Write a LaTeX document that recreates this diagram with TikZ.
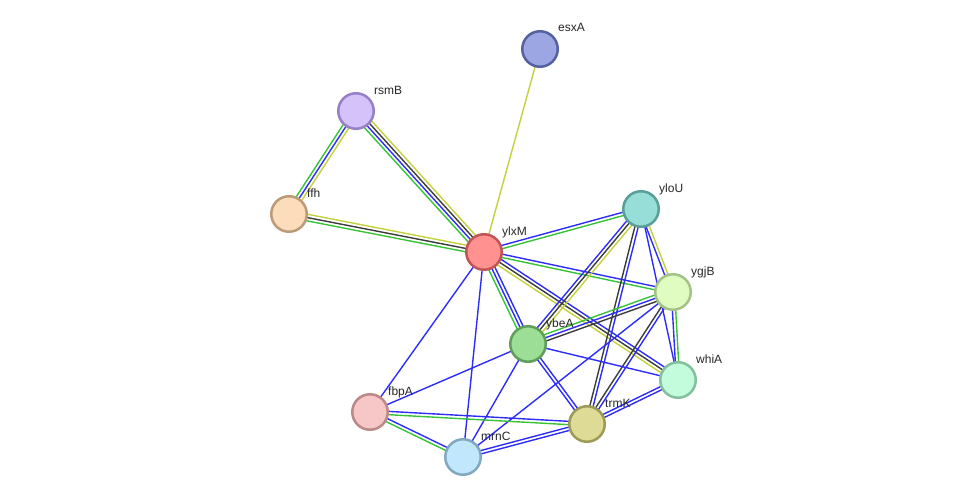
\documentclass[tikz,border=0pt]{standalone}
\usepackage{fontspec}
\setmainfont{Liberation Sans}
\usepackage{xcolor}
\usetikzlibrary{calc,backgrounds}

% channel colours
\definecolor{cb}{RGB}{45,45,250}
\definecolor{cg}{RGB}{55,195,55}
\definecolor{ck}{RGB}{60,60,60}
\definecolor{cy}{RGB}{195,210,60}

% node fill / border colours
\definecolor{esxAf}{HTML}{9BA6E2}\definecolor{esxAd}{HTML}{5661A0}
\definecolor{rsmBf}{HTML}{D5C2FA}\definecolor{rsmBd}{HTML}{9680C7}
\definecolor{ffhf}{HTML}{FDDCBB}\definecolor{ffhd}{HTML}{BC9B79}
\definecolor{ylxMf}{HTML}{FF9191}\definecolor{ylxMd}{HTML}{C15454}
\definecolor{yloUf}{HTML}{96DED7}\definecolor{yloUd}{HTML}{5A9E98}
\definecolor{ygjBf}{HTML}{E0FCC0}\definecolor{ygjBd}{HTML}{A2C286}
\definecolor{ybeAf}{HTML}{9CDE96}\definecolor{ybeAd}{HTML}{5F9E5A}
\definecolor{whiAf}{HTML}{C2FCDC}\definecolor{whiAd}{HTML}{84C09E}
\definecolor{fbpAf}{HTML}{F7C7C7}\definecolor{fbpAd}{HTML}{BC8888}
\definecolor{trmKf}{HTML}{DEDB96}\definecolor{trmKd}{HTML}{9D9A57}
\definecolor{mrnCf}{HTML}{C1E7FC}\definecolor{mrnCd}{HTML}{80A8C0}

% bundle of parallel lines between two nodes: from, to, count, colours
\newcommand{\plink}[4]{%
  \foreach \clr [count=\i] in {#4} {
    \pgfmathsetmacro\off{((#3+1)/2-\i)*3.3}
    \draw[conn, color=\clr] ($(#1)!\off pt!90:(#2)$) -- ($(#2)!\off pt!-90:(#1)$);
  }%
}

\begin{document}
\begin{tikzpicture}[
    x=1pt, y=-1pt,
    prot/.style={circle, fill=#1f, draw=#1d, line width=2.5pt, minimum size=35.5pt, inner sep=0pt},
    lbl/.style={anchor=base west, inner sep=0pt, font=\fontsize{12}{14}\selectfont, text=black!85},
    conn/.style={line width=1.4pt}
]
\useasboundingbox (0,0) rectangle (976,503);

\node[prot=esxA] (esxA) at (540,49) {};
\node[prot=rsmB] (rsmB) at (356,111) {};
\node[prot=ffh] (ffh) at (289,214) {};
\node[prot=ylxM] (ylxM) at (484,252) {};
\node[prot=yloU] (yloU) at (641,209) {};
\node[prot=ygjB] (ygjB) at (673,292) {};
\node[prot=ybeA] (ybeA) at (528,344) {};
\node[prot=whiA] (whiA) at (678,380) {};
\node[prot=fbpA] (fbpA) at (370,412) {};
\node[prot=trmK] (trmK) at (587,424) {};
\node[prot=mrnC] (mrnC) at (463,457) {};

% labels
\foreach \n in {esxA,rsmB,ffh,ylxM,yloU,ygjB,ybeA,whiA,fbpA,trmK,mrnC}
  \node[lbl] (\n-l) at ($(\n)+(18,-17)$) {\n};

\begin{pgfonlayer}{background}
\plink{esxA}{ylxM}{1}{cy}
\plink{rsmB}{ffh}{3}{cy,cb,cg}
\plink{rsmB}{ylxM}{4}{cy,ck,cb,cg}
\plink{ffh}{ylxM}{3}{cy,ck,cg}
\plink{ylxM}{yloU}{2}{cb,cg}
\plink{ylxM}{ygjB}{2}{cb,cg}
\plink{ylxM}{whiA}{3}{cb,ck,cy}
\plink{ylxM}{ybeA}{3}{cb,cb,cg}
\plink{ylxM}{fbpA}{1}{cb}
\plink{ylxM}{mrnC}{1}{cb}
\plink{yloU}{ybeA}{3}{cy,ck,cb}
\plink{yloU}{ygjB}{2}{cy,cb}
\plink{yloU}{whiA}{1}{cb}
\plink{yloU}{trmK}{2}{cb,ck}
\plink{ygjB}{ybeA}{3}{ck,cb,cg}
\plink{ygjB}{whiA}{2}{cg,cb}
\plink{ygjB}{trmK}{2}{cb,ck}
\plink{ygjB}{mrnC}{1}{cb}
\plink{ybeA}{whiA}{1}{cb}
\plink{ybeA}{trmK}{2}{cb,cb}
\plink{ybeA}{fbpA}{1}{cb}
\plink{ybeA}{mrnC}{1}{cb}
\plink{whiA}{trmK}{2}{cb,cb}
\plink{fbpA}{trmK}{2}{cb,cg}
\plink{fbpA}{mrnC}{2}{cb,cg}
\plink{mrnC}{trmK}{2}{cb,cb}
\end{pgfonlayer}
\end{tikzpicture}
\end{document}
